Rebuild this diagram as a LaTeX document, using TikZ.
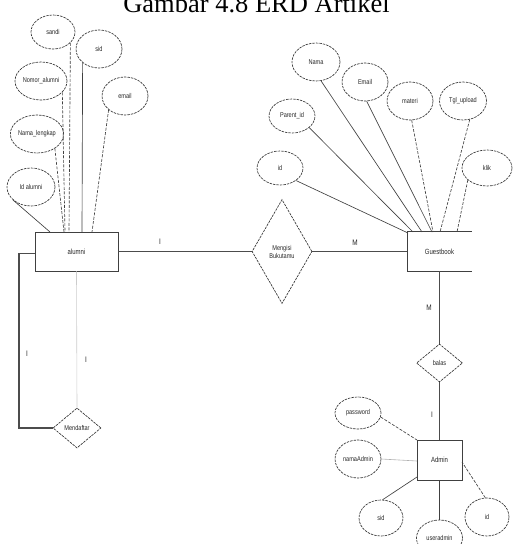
\documentclass[tikz,border=0pt]{standalone}
\usepackage{fontspec}
\setmainfont{Liberation Serif}
\newfontfamily\narrowsans[FakeStretch=0.8]{Liberation Sans}
\usetikzlibrary{shapes.geometric}
\begin{document}
\begin{tikzpicture}[x=1pt,y=-1pt,
  attr/.style={ellipse, draw=black!80, dash pattern=on 2.5pt off 1pt, line width=0.65pt, inner sep=0pt, text=black!85, font=\narrowsans\fontsize{7}{8}\selectfont},
  ent/.style={rectangle, draw=black!75, line width=0.9pt, inner sep=0pt, text=black!85, font=\narrowsans\fontsize{7.5}{8.5}\selectfont},
  entopen/.style={rectangle, draw=none, inner sep=0pt, text=black!85, font=\narrowsans\fontsize{7.5}{8.5}\selectfont},
  rel/.style={diamond, draw=black!80, dash pattern=on 2.5pt off 1pt, line width=0.65pt, inner sep=0pt, align=center, text=black!85, font=\narrowsans\fontsize{7}{8}\selectfont},
  link/.style={draw=black!70, line width=1.2pt},
  aline/.style={draw=black!75, line width=0.65pt},
  adash/.style={aline, dash pattern=on 3pt off 1.5pt},
  card/.style={inner sep=0pt, text=black!85, font=\narrowsans\fontsize{8}{9}\selectfont}
]
\useasboundingbox (0,0) rectangle (512,544);

% title
\node[anchor=base, inner sep=0pt, font=\fontsize{26.5}{28}\selectfont] (title) at (256.5,12) {Gambar 4.8 ERD Artikel};

% entities
\node[ent, minimum width=83pt, minimum height=39pt] (alumni) at (76.5,251.5) {alumni};
\node[entopen, minimum width=64pt, minimum height=39pt] (guest) at (439.5,251.5) {Guestbook};
\draw[draw=black!75, line width=0.9pt] (guest.north east) -- (guest.north west) -- (guest.south west) -- (guest.south east);
\node[ent, minimum width=45pt, minimum height=40pt] (admin) at (439.5,460) {Admin};

% relationships
\node[rel, minimum width=60pt, minimum height=104pt] (mengisi) at (282,251.5) {Mengisi\\Bukutamu};
\node[rel, minimum width=48pt, minimum height=40pt] (mendaftar) at (77,428) {Mendaftar};
\node[rel, minimum width=46pt, minimum height=38pt] (balas) at (439.5,363) {balas};

% alumni attributes
\node[attr, minimum width=44pt, minimum height=34pt] (sandi) at (53,32) {sandi};
\node[attr, minimum width=46pt, minimum height=38pt] (sid1) at (99,49) {sid};
\node[attr, minimum width=52pt, minimum height=38pt] (nomor) at (41,81) {Nomor\_alumni};
\node[attr, minimum width=46pt, minimum height=38pt] (email1) at (125,96) {email};
\node[attr, minimum width=50pt, minimum height=38pt] (namal) at (37,134) {Nama\_lengkap};
\node[attr, minimum width=48pt, minimum height=38pt] (idal) at (31,187) {Id alumni};

% guestbook attributes
\node[attr, minimum width=48pt, minimum height=38pt] (nama) at (316,62) {Nama};
\node[attr, minimum width=46pt, minimum height=38pt] (email2) at (365,82) {Email};
\node[attr, minimum width=46pt, minimum height=34pt] (parent) at (292,116) {Parent\_id};
\node[attr, minimum width=46pt, minimum height=38pt] (materi) at (410,101) {materi};
\node[attr, minimum width=47pt, minimum height=38pt] (tgl) at (463,101) {Tgl\_upload};
\node[attr, minimum width=46pt, minimum height=34pt] (id1) at (280,168) {id};
\node[attr, minimum width=50pt, minimum height=36pt] (klik) at (487,168) {klik};

% admin attributes
\node[attr, minimum width=46pt, minimum height=32pt] (pass) at (358,413) {password};
\node[attr, minimum width=46pt, minimum height=38pt] (namaad) at (358,459) {namaAdmin};
\node[attr, minimum width=44pt, minimum height=36pt] (sid2) at (381,518) {sid};
\node[attr, minimum width=46pt, minimum height=36pt] (usera) at (439.5,538) {useradmin};
\node[attr, minimum width=44pt, minimum height=38pt] (id2) at (487,517) {id};

% attachment points
\coordinate (a1) at (69,232);
\coordinate (a2) at (82,232);
\coordinate (a3) at (65,232);
\coordinate (a4) at (92,232);
\coordinate (a5) at (64,232);
\coordinate (a6) at (50,232);
\coordinate (g1) at (422,232);
\coordinate (g2) at (432,232);
\coordinate (g3) at (413,232);
\coordinate (g4) at (433,232);
\coordinate (g5) at (440,232);
\coordinate (g6) at (408,233);
\coordinate (g7) at (457,232);
\coordinate (d1) at (417,440);
\coordinate (d2) at (417,461);
\coordinate (d3) at (417,477);
\coordinate (d4) at (462,462);

% alumni attribute lines
\draw[adash] (sandi.-32) -- (a1);
\draw[aline] (sid1.-140) -- (a2);
\draw[adash] (nomor.-28) -- (a3);
\draw[adash] (email1.-140) -- (a4);
\draw[adash] (namal.-39) -- (a5);
\draw[aline] (idal.-145) -- (a6);

% guestbook attribute lines
\draw[aline] (nama.-75) -- (g1);
\draw[aline] (email2.-85) -- (g2);
\draw[aline] (parent.-34) -- (g3);
\draw[adash] (materi.-85) -- (g4);
\draw[adash] (tgl.-70) -- (g5);
\draw[aline] (id1.-38) -- (g6);
\draw[adash] (klik.-148) -- (g7);

% admin attribute lines
\draw[adash] (pass.-10) -- (d1);
\draw[draw=black!30, line width=0.6pt] (namaad.east) -- (d2);
\draw[aline] (sid2.85) -- (d3);
\draw[aline] (admin.south) -- (usera.north);
\draw[adash] (id2.95) -- (d4);

% relationship connectors
\draw[link] (alumni.east) -- (mengisi.west);
\draw[link] (mengisi.east) -- (guest.west);
\draw[link] (guest.south) -- (balas.north);
\draw[link] (balas.south) -- (admin.north);
\draw[link] ([yshift=-2pt]alumni.west) -| (19,428) -- (mendaftar.west);
\draw[draw=black!20, line width=0.6pt] (alumni.south) -- (mendaftar.north);

% cardinalities
\node[card] (c1) at (160,242) {I};
\node[card] (c2) at (355,243) {M};
\node[card] (c3) at (27,354) {I};
\node[card] (c4) at (86,360) {I};
\node[card] (c5) at (429,308) {M};
\node[card] (c6) at (432,415) {I};
\end{tikzpicture}
\end{document}
